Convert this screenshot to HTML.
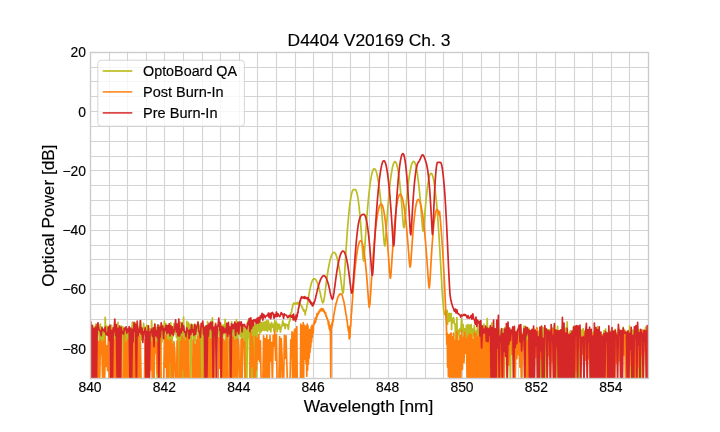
<!DOCTYPE html><html><head><meta charset="utf-8"><style>html,body{margin:0;padding:0;background:#fff;overflow:hidden}svg{display:block}</style></head><body><svg width="720" height="432" viewBox="0 0 720 432"><defs><clipPath id="ax"><rect x="90.0" y="51.84" width="558.0" height="326.15999999999997"/></clipPath></defs><rect x="0" y="0" width="720" height="432" fill="#fff"/><path d="M109.5 51.84V378.0M127.5 51.84V378.0M146.5 51.84V378.0M164.5 51.84V378.0M183.5 51.84V378.0M202.5 51.84V378.0M220.5 51.84V378.0M239.5 51.84V378.0M257.5 51.84V378.0M276.5 51.84V378.0M295.5 51.84V378.0M313.5 51.84V378.0M332.5 51.84V378.0M350.5 51.84V378.0M369.5 51.84V378.0M388.5 51.84V378.0M406.5 51.84V378.0M425.5 51.84V378.0M443.5 51.84V378.0M462.5 51.84V378.0M481.5 51.84V378.0M499.5 51.84V378.0M518.5 51.84V378.0M536.5 51.84V378.0M555.5 51.84V378.0M574.5 51.84V378.0M592.5 51.84V378.0M611.5 51.84V378.0M629.5 51.84V378.0M90.0 363.5H648.0M90.0 348.5H648.0M90.0 334.5H648.0M90.0 319.5H648.0M90.0 304.5H648.0M90.0 289.5H648.0M90.0 274.5H648.0M90.0 259.5H648.0M90.0 245.5H648.0M90.0 230.5H648.0M90.0 215.5H648.0M90.0 200.5H648.0M90.0 185.5H648.0M90.0 170.5H648.0M90.0 156.5H648.0M90.0 141.5H648.0M90.0 126.5H648.0M90.0 111.5H648.0M90.0 96.5H648.0M90.0 81.5H648.0M90.0 67.5H648.0" stroke="#d3d3d3" stroke-width="1.1" fill="none"/><g clip-path="url(#ax)" fill="none" stroke-width="1.7" stroke-linejoin="round" stroke-linecap="round"><path d="M86.0 328.2 86.8 386.0 87.6 328.2 88.4 386.0 89.2 330.2 90.0 386.0 90.8 325.1 91.6 343.8 92.4 328.2 93.2 339.8 94.0 327.0 94.8 386.0 95.6 324.3 96.4 386.0 97.2 325.2 98.0 333.2 98.8 327.0 99.6 348.8 100.4 324.1 101.2 346.3 102.0 326.8 102.8 386.0 103.6 331.3 104.4 386.0 105.2 317.3 106.0 335.3 106.8 326.1 107.6 332.0 108.4 327.5 109.2 341.3 110.0 334.1 110.8 330.3 111.6 325.4 112.4 386.0 113.2 328.9 114.0 339.7 114.8 324.8 115.6 341.8 116.4 327.2 117.2 386.0 118.0 322.3 118.8 386.0 119.6 326.3 120.4 335.2 121.2 326.2 122.0 336.7 122.8 326.7 123.6 386.0 124.4 328.6 125.2 386.0 126.0 327.6 126.8 386.0 127.6 329.0 128.4 386.0 129.2 329.5 130.0 335.7 130.8 329.6 131.6 332.9 132.4 322.0 133.2 334.5 134.0 326.6 134.8 386.0 135.6 322.9 136.4 386.0 137.2 327.1 138.0 386.0 138.8 327.2 139.6 386.0 140.4 320.5 141.2 340.2 142.0 330.6 142.8 332.4 143.6 323.4 144.4 333.5 145.2 327.1 146.0 339.8 146.8 325.0 147.6 386.0 148.4 325.8 149.2 386.0 150.0 328.9 150.8 349.3 151.6 320.5 152.4 341.2 153.2 329.2 154.0 337.2 154.8 323.9 155.6 336.5 156.4 327.7 157.2 386.0 158.0 329.1 158.8 386.0 159.6 325.7 160.4 386.0 161.2 329.7 162.0 342.0 162.8 325.5 163.6 332.4 164.4 321.0 165.2 331.8 166.0 323.7 166.8 341.4 167.6 325.5 168.4 386.0 169.2 330.2 170.0 386.0 170.8 322.8 171.6 386.0 172.4 332.0 173.2 336.1 174.0 323.5 174.8 332.5 175.6 325.2 176.4 337.1 177.2 325.9 178.0 386.0 178.8 323.3 179.6 386.0 180.4 322.2 181.2 386.0 182.0 331.1 182.8 386.0 183.6 317.1 184.4 386.0 185.2 334.6 186.0 386.0 186.8 321.3 187.6 341.0 188.4 322.7 189.2 330.5 190.0 324.4 190.8 386.0 191.6 324.2 192.4 325.1 193.2 325.0 194.0 386.0 194.8 324.5 195.6 339.8 196.4 325.6 197.2 331.1 198.0 321.7 198.8 386.0 199.6 325.3 200.4 386.0 201.2 327.3 202.0 386.0 202.8 324.7 203.6 386.0 204.4 326.5 205.2 341.4 206.0 328.4 206.8 339.4 207.6 321.7 208.4 386.0 209.2 324.0 210.0 386.0 210.8 321.3 211.6 386.0 212.4 317.9 213.2 341.1 214.0 328.5 214.8 334.3 215.6 323.1 216.4 336.6 217.2 327.8 218.0 329.5 218.8 332.2 219.6 339.8 220.4 323.2 221.2 386.0 222.0 325.0 222.8 337.3 223.6 325.1 224.4 330.7 225.2 319.3 226.0 386.0 226.8 323.2 227.6 386.0 228.4 327.4 229.2 331.6 230.0 326.9 230.8 340.5 231.6 321.8 232.4 332.0 233.2 328.2 234.0 386.0 234.8 322.3 235.6 386.0 236.4 319.6 237.2 386.0 238.0 323.4 238.8 333.2 239.6 328.4 240.4 336.1 241.2 325.0 242.0 386.0 242.8 328.4 243.6 330.7 244.4 326.4 245.2 386.0 246.0 330.1 246.8 386.0 247.6 321.1 248.4 337.6 249.2 322.2 250.0 386.0 250.8 320.5 251.6 386.0 252.4 321.3 253.2 386.0 254.0 325.0 254.8 386.0 255.6 323.0 256.4 386.0 257.2 323.1 258.0 331.0 258.8 322.3 259.6 333.8 260.4 322.4 261.2 331.9 262.0 322.4 262.8 330.1 263.6 322.4 264.4 330.4 265.2 321.7 266.0 330.5 266.8 320.5 267.6 331.3 268.4 320.8 269.2 329.7 270.0 324.2 270.8 331.9 271.6 322.6 272.4 327.2 273.2 324.4 274.0 331.5 274.8 320.6 275.6 329.5 276.4 322.2 277.2 331.6 278.0 324.0 278.8 328.6 279.6 324.3 280.4 332.1 281.2 327.7 282.0 325.8 282.8 320.8 283.6 325.5 284.4 323.7 285.2 328.7 286.0 324.2 286.8 325.1 287.6 324.8 288.4 329.5 289.2 321.5 290.0 320.6 290.8 312.8 291.6 312.1 292.0 308.4 292.4 308.1 292.8 305.1 293.2 305.1 293.6 303.1 294.0 304.3 294.4 303.0 294.8 303.5 295.2 303.1 295.6 304.0 296.0 303.3 296.4 303.7 296.8 303.0 297.2 304.0 297.6 302.4 298.0 303.1 298.4 303.0 298.8 302.7 299.2 303.6 299.6 303.8 300.0 303.4 300.4 304.9 300.8 305.0 301.2 305.8 301.6 305.9 302.0 307.5 302.4 307.1 302.8 309.3 303.2 309.2 303.6 311.1 304.0 309.9 304.4 311.2 304.8 311.1 305.2 315.0 305.6 311.1 306.0 310.8 306.4 308.9 306.8 307.2 307.2 304.7 307.6 303.3 308.0 300.6 308.4 298.1 308.8 295.4 309.2 293.3 309.6 290.9 310.0 289.1 310.4 287.1 310.8 285.5 311.2 283.9 311.6 282.6 312.0 281.4 312.4 280.6 312.8 279.7 313.2 279.3 313.6 278.8 314.0 278.8 314.4 278.7 314.8 279.0 315.2 279.1 315.6 279.6 316.0 280.0 316.4 280.8 316.8 281.5 317.2 282.6 317.6 283.4 318.0 284.6 318.4 285.8 318.8 287.2 319.2 288.6 319.6 290.5 320.0 291.9 320.4 293.8 320.8 295.7 321.2 297.5 321.6 299.1 322.0 301.1 322.4 301.9 322.8 302.8 323.2 302.3 323.6 301.8 324.0 299.0 324.4 297.5 324.8 294.2 325.2 291.4 325.6 288.1 326.0 285.1 326.4 282.0 326.8 279.1 327.2 276.1 327.6 273.5 328.0 270.8 328.4 268.5 328.8 266.2 329.2 264.2 329.6 262.2 330.0 260.5 330.4 258.9 330.8 257.5 331.2 256.3 331.6 255.2 332.0 254.3 332.4 253.6 332.8 253.0 333.2 252.6 333.6 252.4 334.0 252.4 334.4 252.5 334.8 252.8 335.2 253.3 335.6 254.0 336.0 254.8 336.4 255.9 336.8 257.1 337.2 258.5 337.6 260.0 338.0 261.8 338.4 263.7 338.8 265.8 339.2 268.1 339.6 270.5 340.0 273.1 340.4 276.0 340.8 278.9 341.2 282.3 341.6 285.1 342.0 288.8 342.4 291.0 342.8 293.3 343.2 292.8 343.6 290.0 344.0 284.9 344.4 278.4 344.8 271.3 345.2 264.2 345.6 257.4 346.0 250.8 346.4 244.5 346.8 238.6 347.2 233.0 347.6 227.8 348.0 222.8 348.4 218.3 348.8 214.0 349.2 210.1 349.6 206.6 350.0 203.3 350.4 200.5 350.8 197.9 351.2 195.7 351.6 193.8 352.0 192.3 352.4 191.1 352.8 190.3 353.2 189.8 353.6 189.6 354.0 189.6 354.4 189.6 354.8 189.6 355.2 189.6 355.6 189.8 356.0 190.3 356.4 191.3 356.8 192.5 357.2 194.2 357.6 196.2 358.0 198.6 358.4 201.4 358.8 204.5 359.2 208.0 359.6 211.9 360.0 216.1 360.4 220.8 360.8 225.7 361.2 231.1 361.6 236.7 362.0 242.7 362.4 248.9 362.8 254.8 363.2 259.4 363.6 261.0 364.0 258.6 364.4 253.6 364.8 247.4 365.2 241.2 365.6 235.0 366.0 229.0 366.4 223.4 366.8 218.0 367.2 212.9 367.6 208.0 368.0 203.5 368.4 199.2 368.8 195.2 369.2 191.5 369.6 188.1 370.0 184.9 370.4 182.0 370.8 179.4 371.2 177.1 371.6 175.1 372.0 173.3 372.4 171.9 372.8 170.7 373.2 169.8 373.6 169.1 374.0 168.8 374.4 168.7 374.8 168.9 375.2 169.3 375.6 170.0 376.0 171.0 376.4 172.1 376.8 173.6 377.2 175.3 377.6 177.2 378.0 179.4 378.4 181.8 378.8 184.5 379.2 187.5 379.6 190.7 380.0 194.1 380.4 197.8 380.8 201.7 381.2 205.9 381.6 210.4 382.0 215.1 382.4 220.0 382.8 225.1 383.2 230.5 383.6 235.8 384.0 240.9 384.4 244.7 384.8 246.0 385.2 244.0 385.6 239.4 386.0 233.8 386.4 227.8 386.8 221.9 387.2 216.2 387.6 210.8 388.0 205.6 388.4 200.7 388.8 196.1 389.2 191.8 389.6 187.8 390.0 184.1 390.4 180.7 390.8 177.5 391.2 174.6 391.6 172.1 392.0 169.8 392.4 167.8 392.8 166.0 393.2 164.6 393.6 163.5 394.0 162.6 394.4 162.0 394.8 161.7 395.2 161.7 395.6 162.0 396.0 162.6 396.4 163.6 396.8 164.8 397.2 166.3 397.6 168.1 398.0 170.2 398.4 172.7 398.8 175.4 399.2 178.4 399.6 181.7 400.0 185.4 400.4 189.3 400.8 193.6 401.2 198.1 401.6 202.9 402.0 208.0 402.4 213.3 402.8 218.5 403.2 223.4 403.6 226.8 404.0 227.8 404.4 226.0 404.8 222.2 405.2 217.4 405.6 212.5 406.0 207.6 406.4 202.9 406.8 198.4 407.2 194.2 407.6 190.2 408.0 186.5 408.4 183.1 408.8 179.9 409.2 176.9 409.6 174.2 410.0 171.8 410.4 169.6 410.8 167.7 411.2 166.0 411.6 164.6 412.0 163.5 412.4 162.6 412.8 161.9 413.2 161.5 413.6 161.4 414.0 161.5 414.4 162.0 414.8 162.7 415.2 163.6 415.6 164.9 416.0 166.4 416.4 168.2 416.8 170.3 417.2 172.7 417.6 175.4 418.0 178.3 418.4 181.5 418.8 185.0 419.2 188.8 419.6 192.8 420.0 197.1 420.4 201.7 420.8 206.6 421.2 211.7 421.6 217.0 422.0 222.2 422.4 227.0 422.8 230.4 423.2 231.1 423.6 228.9 424.0 224.7 424.4 219.7 424.8 214.6 425.2 209.6 425.6 204.9 426.0 200.4 426.4 196.4 426.8 192.6 427.2 189.2 427.6 186.1 428.0 183.3 428.4 180.9 428.8 178.8 429.2 177.1 429.6 175.6 430.0 174.6 430.4 173.8 430.8 173.4 431.2 173.3 431.6 173.6 432.0 174.1 432.4 175.1 432.8 176.3 433.2 177.9 433.6 179.8 434.0 182.1 434.4 184.6 434.8 187.6 435.2 190.8 435.6 194.4 436.0 198.3 436.4 201.1 436.8 205.7 437.2 210.6 437.6 215.8 438.0 221.3 438.4 227.1 438.8 233.2 439.2 239.5 439.6 246.1 440.0 252.9 440.4 259.8 440.8 266.9 441.2 274.0 441.6 280.8 442.0 288.2 442.4 294.2 442.8 300.4 443.2 303.7 443.6 309.6 444.0 311.6 444.4 314.1 444.8 312.4 445.2 315.2 445.6 312.3 446.0 317.2 446.4 311.5 446.8 322.9 447.2 310.3 447.6 324.3 448.0 313.3 448.4 320.9 448.8 315.1 449.2 321.4 449.6 313.4 450.0 319.6 450.4 315.2 450.8 320.6 451.2 313.6 451.6 329.6 452.0 318.9 452.8 322.6 453.6 317.5 454.4 323.7 455.2 324.2 456.0 386.0 456.8 317.7 457.6 340.7 458.4 330.1 459.2 334.1 460.0 328.5 460.8 331.1 461.6 318.9 462.4 331.2 463.2 324.7 464.0 339.2 464.8 328.8 465.6 340.5 466.4 325.3 467.2 340.9 468.0 324.7 468.8 338.4 469.6 325.0 470.4 335.7 471.2 324.7 472.0 338.5 472.8 329.1 473.6 335.9 474.4 325.9 475.2 351.2 476.0 331.2 476.8 337.7 477.6 325.5 478.4 343.7 479.2 330.4 480.0 343.6 480.8 328.1 481.6 339.7 482.4 327.0 483.2 386.0 484.0 324.1 484.8 386.0 485.6 327.9 486.4 343.7 487.2 318.7 488.0 343.3 488.8 328.2 489.6 386.0 490.4 328.2 491.2 386.0 492.0 322.8 492.8 386.0 493.6 326.6 494.4 339.5 495.2 334.9 496.0 342.0 496.8 328.2 497.6 337.1 498.4 326.4 499.2 386.0 500.0 330.1 500.8 386.0 501.6 333.1 502.4 386.0 503.2 328.9 504.0 386.0 504.8 327.6 505.6 343.6 506.4 328.2 507.2 386.0 508.0 333.2 508.8 338.5 509.6 334.2 510.4 386.0 511.2 331.0 512.0 338.7 512.8 326.5 513.6 386.0 514.4 331.0 515.2 337.6 516.0 332.0 516.8 339.8 517.6 329.6 518.4 353.1 519.2 328.5 520.0 349.3 520.8 333.2 521.6 386.0 522.4 334.0 523.2 335.1 524.0 326.1 524.8 340.9 525.6 326.4 526.4 345.1 527.2 334.1 528.0 340.1 528.8 328.3 529.6 342.1 530.4 330.9 531.2 343.1 532.0 330.7 532.8 341.5 533.6 328.5 534.4 337.0 535.2 330.8 536.0 349.6 536.8 327.6 537.6 386.0 538.4 331.0 539.2 343.5 540.0 327.0 540.8 386.0 541.6 333.3 542.4 386.0 543.2 327.9 544.0 344.6 544.8 330.1 545.6 386.0 546.4 329.2 547.2 339.1 548.0 329.5 548.8 345.2 549.6 329.5 550.4 331.0 551.2 329.4 552.0 341.1 552.8 328.2 553.6 345.8 554.4 325.4 555.2 386.0 556.0 330.1 556.8 386.0 557.6 326.4 558.4 344.1 559.2 330.6 560.0 332.5 560.8 336.3 561.6 339.3 562.4 326.6 563.2 353.5 564.0 334.7 564.8 346.3 565.6 328.2 566.4 347.9 567.2 321.9 568.0 386.0 568.8 333.4 569.6 333.4 570.4 330.8 571.2 345.6 572.0 332.3 572.8 341.8 573.6 326.3 574.4 347.8 575.2 328.9 576.0 386.0 576.8 330.4 577.6 386.0 578.4 327.4 579.2 386.0 580.0 328.3 580.8 349.3 581.6 330.2 582.4 335.6 583.2 328.5 584.0 345.0 584.8 334.0 585.6 347.5 586.4 329.5 587.2 338.9 588.0 331.3 588.8 341.5 589.6 331.2 590.4 343.8 591.2 332.0 592.0 345.7 592.8 332.4 593.6 337.8 594.4 331.4 595.2 386.0 596.0 329.7 596.8 338.5 597.6 326.5 598.4 386.0 599.2 330.3 600.0 386.0 600.8 332.7 601.6 386.0 602.4 334.6 603.2 344.2 604.0 330.7 604.8 386.0 605.6 329.1 606.4 386.0 607.2 333.7 608.0 386.0 608.8 329.3 609.6 350.2 610.4 331.0 611.2 336.6 612.0 336.1 612.8 347.6 613.6 343.6 614.4 386.0 615.2 329.4 616.0 352.2 616.8 333.3 617.6 349.3 618.4 328.5 619.2 339.8 620.0 330.9 620.8 349.2 621.6 335.5 622.4 337.8 623.2 327.4 624.0 354.6 624.8 331.6 625.6 348.9 626.4 331.7 627.2 348.8 628.0 332.3 628.8 348.7 629.6 326.2 630.4 386.0 631.2 331.7 632.0 339.5 632.8 330.2 633.6 337.0 634.4 335.3 635.2 386.0 636.0 328.2 636.8 386.0 637.6 332.1 638.4 386.0 639.2 329.7 640.0 386.0 640.8 338.3 641.6 386.0 642.4 331.1 643.2 386.0 644.0 333.5 644.8 338.6 645.6 327.0 646.4 347.4 647.2 327.9 648.0 346.9 648.8 334.9 649.6 386.0 650.4 330.5 651.2 346.2" stroke="#bcbd22"/><path d="M86.0 340.6 86.8 359.9 87.6 386.0 88.4 386.0 89.2 345.4 90.0 364.4 90.8 339.0 91.6 375.8 92.4 386.0 93.2 386.0 94.0 386.0 94.8 386.0 95.6 338.9 96.4 386.0 97.2 341.2 98.0 386.0 98.8 341.5 99.6 386.0 100.4 340.2 101.2 354.3 102.0 342.3 102.8 386.0 103.6 340.8 104.4 386.0 105.2 336.8 106.0 366.4 106.8 345.9 107.6 370.6 108.4 334.6 109.2 386.0 110.0 386.0 110.8 386.0 111.6 342.9 112.4 386.0 113.2 340.3 114.0 386.0 114.8 339.1 115.6 386.0 116.4 336.3 117.2 351.1 118.0 386.0 118.8 386.0 119.6 386.0 120.4 386.0 121.2 337.9 122.0 386.0 122.8 386.0 123.6 386.0 124.4 334.0 125.2 386.0 126.0 342.6 126.8 386.0 127.6 339.9 128.4 386.0 129.2 339.7 130.0 347.7 130.8 346.4 131.6 386.0 132.4 338.6 133.2 386.0 134.0 341.3 134.8 386.0 135.6 338.8 136.4 386.0 137.2 341.3 138.0 386.0 138.8 334.8 139.6 386.0 140.4 342.8 141.2 386.0 142.0 386.0 142.8 386.0 143.6 386.0 144.4 386.0 145.2 339.0 146.0 386.0 146.8 386.0 147.6 386.0 148.4 340.2 149.2 386.0 150.0 338.4 150.8 369.8 151.6 341.8 152.4 386.0 153.2 336.9 154.0 386.0 154.8 336.5 155.6 352.9 156.4 342.4 157.2 374.0 158.0 343.2 158.8 386.0 159.6 339.5 160.4 337.5 161.2 386.0 162.0 386.0 162.8 386.0 163.6 386.0 164.4 337.0 165.2 367.2 166.0 334.4 166.8 386.0 167.6 340.1 168.4 386.0 169.2 340.8 170.0 362.9 170.8 339.8 171.6 386.0 172.4 344.3 173.2 386.0 174.0 341.7 174.8 351.5 175.6 386.0 176.4 386.0 177.2 341.4 178.0 386.0 178.8 386.0 179.6 386.0 180.4 341.0 181.2 386.0 182.0 336.6 182.8 369.8 183.6 338.3 184.4 386.0 185.2 341.0 186.0 376.3 186.8 337.1 187.6 386.0 188.4 334.8 189.2 386.0 190.0 386.0 190.8 386.0 191.6 386.0 192.4 386.0 193.2 340.2 194.0 377.5 194.8 344.5 195.6 386.0 196.4 340.0 197.2 386.0 198.0 336.2 198.8 386.0 199.6 337.4 200.4 386.0 201.2 386.0 202.0 386.0 202.8 386.0 203.6 386.0 204.4 337.6 205.2 386.0 206.0 334.5 206.8 342.8 207.6 335.9 208.4 386.0 209.2 338.5 210.0 386.0 210.8 339.1 211.6 386.0 212.4 340.2 213.2 386.0 214.0 334.5 214.8 386.0 215.6 386.0 216.4 386.0 217.2 386.0 218.0 386.0 218.8 337.6 219.6 368.1 220.4 340.1 221.2 386.0 222.0 335.4 222.8 386.0 223.6 339.2 224.4 386.0 225.2 341.1 226.0 386.0 226.8 332.6 227.6 386.0 228.4 386.0 229.2 386.0 230.0 340.4 230.8 386.0 231.6 335.6 232.4 386.0 233.2 337.4 234.0 386.0 234.8 340.1 235.6 375.8 236.4 339.7 237.2 386.0 238.0 338.9 238.8 347.6 239.6 386.0 240.4 386.0 241.2 339.5 242.0 386.0 242.8 338.5 243.6 347.2 244.4 341.8 245.2 386.0 246.0 386.0 246.8 386.0 247.6 386.0 248.4 386.0 249.2 386.0 250.0 386.0 250.8 332.8 251.6 367.1 252.4 336.6 253.2 353.8 254.0 386.0 254.8 386.0 255.6 336.7 256.4 369.9 257.2 338.3 258.0 359.6 258.8 334.6 259.6 361.6 260.4 340.8 261.2 386.0 262.0 386.0 262.8 386.0 263.6 335.8 264.4 386.0 265.2 338.7 266.0 386.0 266.8 335.3 267.6 386.0 268.4 339.8 269.2 386.0 270.0 335.6 270.8 361.1 271.6 342.3 272.4 386.0 273.2 335.5 274.0 346.2 274.8 330.7 275.6 360.5 276.4 334.6 277.2 386.0 278.0 386.0 278.8 386.0 279.6 336.6 280.4 386.0 281.2 338.5 282.0 355.5 282.8 386.0 283.6 386.0 284.4 335.4 285.2 358.3 286.0 335.8 286.8 363.4 287.6 386.0 288.4 386.0 289.2 386.0 290.0 386.0 290.8 339.8 291.6 357.5 292.0 331.8 292.4 367.4 292.8 386.0 293.2 386.0 293.6 333.0 294.0 386.0 294.4 330.0 294.8 339.5 295.2 328.9 295.6 376.5 296.0 386.0 296.4 386.0 296.8 326.5 297.2 386.0 297.6 386.0 298.0 386.0 298.4 386.0 298.8 386.0 299.2 386.0 299.6 386.0 300.0 386.0 300.4 386.0 300.8 324.2 301.2 386.0 301.6 386.0 302.0 386.0 302.4 325.6 302.8 386.0 303.2 322.5 303.6 386.0 304.0 324.9 304.4 359.6 304.8 327.9 305.2 341.9 305.6 326.1 306.0 363.7 306.4 327.1 306.8 376.2 307.2 324.1 307.6 370.1 308.0 325.8 308.4 364.0 308.8 331.7 309.2 358.1 309.6 329.5 310.0 352.4 310.4 331.4 310.8 347.1 311.2 326.9 311.6 342.1 312.0 325.3 312.4 337.4 312.8 326.1 313.2 333.2 313.6 324.1 314.0 324.8 314.4 321.0 314.8 323.5 315.2 318.1 315.6 322.1 316.0 317.4 316.4 319.3 316.8 314.0 317.2 316.4 317.6 313.6 318.0 314.5 318.4 312.0 318.8 313.1 319.2 311.1 319.6 311.7 320.0 309.8 320.4 310.6 320.8 309.0 321.2 310.6 321.6 308.7 322.0 310.6 322.4 308.9 322.8 309.9 323.2 309.0 323.6 311.5 324.0 310.5 324.4 312.2 324.8 312.2 325.2 314.2 325.6 312.6 326.0 316.5 326.4 315.7 326.8 318.5 327.2 317.9 327.6 319.8 328.0 320.7 328.4 324.9 328.8 321.4 329.2 328.8 329.6 324.8 330.0 331.0 330.4 326.3 330.8 386.0 331.2 325.5 331.6 327.6 332.0 322.9 332.4 325.6 332.8 319.5 333.2 321.4 333.6 315.6 334.0 314.9 334.4 311.6 334.8 310.2 335.2 307.0 335.6 306.4 336.0 303.2 336.4 303.2 336.8 300.6 337.2 299.8 337.6 298.1 338.0 297.1 338.4 296.0 338.8 295.7 339.2 294.7 339.6 294.6 340.0 293.9 340.4 294.2 340.8 293.7 341.2 294.4 341.6 294.4 342.0 295.2 342.4 295.9 342.8 297.8 343.2 298.8 343.6 300.9 344.0 302.0 344.4 305.0 344.8 306.4 345.2 309.5 345.6 311.5 346.0 314.9 346.4 315.5 346.8 320.3 347.2 320.4 347.6 325.6 348.0 327.7 348.4 331.2 348.8 326.8 349.2 338.9 349.6 329.6 350.0 337.3 350.4 325.2 350.8 325.9 351.2 315.7 351.6 312.4 352.0 305.7 352.4 301.0 352.8 294.5 353.2 290.0 353.6 284.7 354.0 280.0 354.4 275.4 354.8 271.2 355.2 267.2 355.6 263.5 356.0 260.1 356.4 256.9 356.8 254.0 357.2 251.4 357.6 249.1 358.0 247.1 358.4 245.3 358.8 243.9 359.2 242.7 359.6 241.8 360.0 241.1 360.4 240.8 360.8 240.7 361.2 241.0 361.6 241.5 362.0 242.4 362.4 243.6 362.8 245.1 363.2 247.0 363.6 249.2 364.0 251.6 364.4 254.5 364.8 257.6 365.2 261.1 365.6 264.8 366.0 268.9 366.4 273.2 366.8 278.1 367.2 282.9 367.6 288.4 368.0 293.4 368.4 299.4 368.8 303.4 369.2 307.3 369.6 305.4 370.0 303.3 370.4 297.0 370.8 291.3 371.2 284.5 371.6 278.3 372.0 272.3 372.4 266.5 372.8 260.8 373.2 255.5 373.6 250.4 374.0 245.6 374.4 241.1 374.8 236.8 375.2 232.7 375.6 229.0 376.0 225.5 376.4 222.2 376.8 219.3 377.2 216.6 377.6 214.1 378.0 211.9 378.4 210.0 378.8 208.4 379.2 207.0 379.6 205.9 380.0 205.0 380.4 204.4 380.8 204.1 381.2 204.0 381.6 204.2 382.0 204.8 382.4 205.6 382.8 206.8 383.2 208.2 383.6 210.0 384.0 212.1 384.4 214.5 384.8 217.2 385.2 220.2 385.6 223.5 386.0 227.1 386.4 231.0 386.8 235.3 387.2 239.8 387.6 244.6 388.0 249.8 388.4 255.2 388.8 260.9 389.2 266.7 389.6 272.2 390.0 276.6 390.4 278.2 390.8 276.2 391.2 271.2 391.6 265.2 392.0 258.9 392.4 252.8 392.8 246.9 393.2 241.3 393.6 236.0 394.0 231.0 394.4 226.3 394.8 222.0 395.2 217.9 395.6 214.2 396.0 210.8 396.4 207.7 396.8 205.0 397.2 202.5 397.6 200.4 398.0 198.6 398.4 197.1 398.8 195.9 399.2 195.0 399.6 194.4 400.0 194.2 400.4 194.3 400.8 194.6 401.2 195.2 401.6 196.0 402.0 197.1 402.4 198.5 402.8 200.1 403.2 201.9 403.6 204.1 404.0 206.4 404.4 209.1 404.8 212.0 405.2 215.1 405.6 218.5 406.0 222.2 406.4 226.1 406.8 230.3 407.2 234.7 407.6 239.4 408.0 244.4 408.4 249.5 408.8 254.8 409.2 260.0 409.6 264.5 410.0 267.2 410.4 266.5 410.8 262.9 411.2 257.4 411.6 251.5 412.0 245.5 412.4 239.9 412.8 234.5 413.2 229.5 413.6 224.9 414.0 220.7 414.4 216.9 414.8 213.4 415.2 210.4 415.6 207.7 416.0 205.4 416.4 203.5 416.8 201.9 417.2 200.8 417.6 200.0 418.0 199.6 418.4 199.6 418.8 199.9 419.2 200.4 419.6 201.1 420.0 202.2 420.4 203.4 420.8 204.9 421.2 206.7 421.6 208.7 422.0 211.0 422.4 213.5 422.8 216.3 423.2 219.3 423.6 222.6 424.0 226.2 424.4 230.0 424.8 234.0 425.2 238.3 425.6 242.8 426.0 247.7 426.4 252.7 426.8 258.0 427.2 263.5 427.6 269.3 428.0 275.2 428.4 281.0 428.8 285.7 429.2 288.0 429.6 285.7 430.0 280.4 430.4 273.5 430.8 266.3 431.2 259.4 431.6 252.9 432.0 246.8 432.4 241.2 432.8 236.0 433.2 231.3 433.6 227.0 434.0 223.2 434.4 219.9 434.8 217.0 435.2 214.6 435.6 212.6 436.0 211.1 436.4 210.1 436.8 209.5 437.2 209.4 437.6 209.8 438.0 210.6 438.4 211.8 438.8 213.6 439.2 215.7 439.6 211.6 440.0 215.9 440.4 220.3 440.8 225.0 441.2 229.9 441.6 235.1 442.0 240.7 442.4 246.6 442.8 252.9 443.2 259.5 443.6 266.6 444.0 273.8 444.4 281.5 444.8 289.4 445.2 298.7 445.6 306.6 446.0 317.2 446.4 325.0 446.8 344.2 447.2 333.3 447.6 367.1 448.0 334.6 448.4 376.6 448.8 334.9 449.2 357.0 449.6 336.9 450.0 386.0 450.4 333.6 450.8 386.0 451.2 333.0 451.6 386.0 452.0 336.7 452.8 386.0 453.6 333.2 454.4 386.0 455.2 340.4 456.0 386.0 456.8 331.6 457.6 386.0 458.4 340.8 459.2 386.0 460.0 335.5 460.8 383.9 461.6 330.5 462.4 369.5 463.2 337.3 464.0 362.3 464.8 332.7 465.6 353.1 466.4 338.6 467.2 386.0 468.0 336.0 468.8 386.0 469.6 333.9 470.4 386.0 471.2 334.9 472.0 386.0 472.8 339.1 473.6 386.0 474.4 332.7 475.2 386.0 476.0 333.6 476.8 386.0 477.6 337.2 478.4 386.0 479.2 335.7 480.0 386.0 480.8 335.0 481.6 386.0 482.4 334.5 483.2 386.0 484.0 334.6 484.8 386.0 485.6 333.3 486.4 386.0 487.2 340.1 488.0 386.0 488.8 335.2 489.6 386.0 490.4 327.1 491.2 386.0 492.0 333.3 492.8 386.0 493.6 333.2 494.4 386.0 495.2 339.1 496.0 357.7 496.8 337.4 497.6 386.0 498.4 335.7 499.2 356.1 500.0 335.4 500.8 386.0 501.6 336.4 502.4 386.0 503.2 336.3 504.0 386.0 504.8 343.8 505.6 354.0 506.4 335.3 507.2 350.7 508.0 333.9 508.8 365.2 509.6 335.5 510.4 334.4 511.2 333.3 512.0 354.4 512.8 333.4 513.6 360.1 514.4 338.8 515.2 386.0 516.0 332.3 516.8 358.6 517.6 333.2 518.4 354.8 519.2 338.2 520.0 367.3 520.8 334.7 521.6 386.0 522.4 339.7 523.2 345.9 524.0 335.9 524.8 386.0 525.6 334.1 526.4 386.0 527.2 341.1 528.0 386.0 528.8 333.3 529.6 351.9 530.4 334.2 531.2 363.4 532.0 334.5 532.8 386.0 533.6 336.3 534.4 341.2 535.2 339.6 536.0 357.5 536.8 327.9 537.6 335.8 538.4 336.0 539.2 346.0 540.0 342.5 540.8 358.7 541.6 335.0 542.4 353.9 543.2 338.9 544.0 360.1 544.8 337.0 545.6 340.2 546.4 332.4 547.2 367.7 548.0 330.9 548.8 355.6 549.6 337.7 550.4 386.0 551.2 338.5 552.0 361.3 552.8 328.5 553.6 386.0 554.4 333.6 555.2 373.6 556.0 331.8 556.8 350.0 557.6 334.4 558.4 386.0 559.2 330.8 560.0 363.9 560.8 337.6 561.6 386.0 562.4 336.7 563.2 347.4 564.0 330.4 564.8 343.4 565.6 332.3 566.4 349.6 567.2 336.8 568.0 386.0 568.8 335.6 569.6 386.0 570.4 333.7 571.2 348.2 572.0 339.1 572.8 351.8 573.6 337.8 574.4 357.6 575.2 335.9 576.0 371.2 576.8 338.5 577.6 338.1 578.4 334.3 579.2 348.1 580.0 335.7 580.8 365.9 581.6 336.3 582.4 353.9 583.2 336.1 584.0 345.2 584.8 331.4 585.6 360.2 586.4 329.5 587.2 365.7 588.0 332.5 588.8 358.7 589.6 345.8 590.4 386.0 591.2 340.2 592.0 369.0 592.8 333.8 593.6 386.0 594.4 337.6 595.2 386.0 596.0 336.9 596.8 360.5 597.6 332.2 598.4 386.0 599.2 340.3 600.0 385.8 600.8 336.9 601.6 357.7 602.4 335.1 603.2 386.0 604.0 335.2 604.8 364.1 605.6 337.4 606.4 386.0 607.2 339.1 608.0 342.6 608.8 333.0 609.6 356.4 610.4 336.9 611.2 386.0 612.0 332.9 612.8 386.0 613.6 333.5 614.4 386.0 615.2 334.2 616.0 363.3 616.8 339.5 617.6 350.3 618.4 329.7 619.2 361.1 620.0 337.4 620.8 386.0 621.6 332.8 622.4 344.3 623.2 337.8 624.0 355.1 624.8 330.3 625.6 386.0 626.4 336.5 627.2 358.7 628.0 331.4 628.8 356.4 629.6 341.9 630.4 364.9 631.2 341.6 632.0 377.6 632.8 339.3 633.6 386.0 634.4 336.2 635.2 386.0 636.0 330.5 636.8 386.0 637.6 333.7 638.4 366.9 639.2 340.4 640.0 361.0 640.8 336.2 641.6 354.8 642.4 330.1 643.2 363.6 644.0 336.0 644.8 350.5 645.6 332.1 646.4 376.6 647.2 335.1 648.0 363.3 648.8 340.7 649.6 348.5 650.4 341.1 651.2 386.0" stroke="#ff7f0e"/><path d="M86.0 334.1 86.8 386.0 87.6 329.3 88.4 386.0 89.2 326.6 90.0 335.8 90.8 321.9 91.6 386.0 92.4 325.3 93.2 386.0 94.0 328.6 94.8 386.0 95.6 327.0 96.4 386.0 97.2 324.7 98.0 322.9 98.8 329.3 99.6 330.7 100.4 330.7 101.2 335.6 102.0 327.8 102.8 330.3 103.6 329.4 104.4 331.7 105.2 327.2 106.0 334.6 106.8 333.5 107.6 335.3 108.4 326.9 109.2 340.1 110.0 325.0 110.8 386.0 111.6 330.3 112.4 386.0 113.2 327.9 114.0 331.9 114.8 319.1 115.6 335.7 116.4 324.7 117.2 386.0 118.0 328.3 118.8 386.0 119.6 326.2 120.4 386.0 121.2 327.5 122.0 333.4 122.8 331.7 123.6 334.1 124.4 328.0 125.2 329.6 126.0 326.8 126.8 333.1 127.6 329.1 128.4 331.7 129.2 326.7 130.0 386.0 130.8 328.0 131.6 386.0 132.4 329.4 133.2 341.6 134.0 322.3 134.8 331.2 135.6 324.3 136.4 386.0 137.2 321.1 138.0 335.9 138.8 329.3 139.6 332.3 140.4 320.7 141.2 334.2 142.0 328.1 142.8 342.5 143.6 331.9 144.4 332.1 145.2 328.1 146.0 386.0 146.8 331.3 147.6 386.0 148.4 325.9 149.2 386.0 150.0 332.0 150.8 332.4 151.6 329.2 152.4 336.2 153.2 327.9 154.0 346.7 154.8 324.4 155.6 335.5 156.4 330.9 157.2 337.5 158.0 324.9 158.8 386.0 159.6 327.3 160.4 337.0 161.2 322.8 162.0 329.7 162.8 326.5 163.6 338.7 164.4 328.7 165.2 330.2 166.0 325.4 166.8 333.3 167.6 325.6 168.4 332.6 169.2 323.9 170.0 335.8 170.8 325.9 171.6 333.7 172.4 326.8 173.2 335.1 174.0 330.6 174.8 328.5 175.6 319.9 176.4 331.9 177.2 324.2 178.0 336.0 178.8 319.1 179.6 335.9 180.4 329.1 181.2 332.9 182.0 322.9 182.8 330.2 183.6 325.9 184.4 332.1 185.2 331.8 186.0 336.6 186.8 327.9 187.6 331.0 188.4 330.8 189.2 338.5 190.0 329.6 190.8 334.5 191.6 324.9 192.4 331.9 193.2 329.9 194.0 335.3 194.8 324.4 195.6 334.1 196.4 326.7 197.2 326.2 198.0 322.4 198.8 331.1 199.6 332.5 200.4 337.5 201.2 323.4 202.0 326.5 202.8 321.0 203.6 334.6 204.4 327.5 205.2 386.0 206.0 325.9 206.8 386.0 207.6 325.3 208.4 336.2 209.2 323.4 210.0 328.7 210.8 322.4 211.6 329.8 212.4 322.2 213.2 386.0 214.0 327.2 214.8 335.2 215.6 324.1 216.4 386.0 217.2 326.4 218.0 326.3 218.8 318.1 219.6 330.1 220.4 322.9 221.2 386.0 222.0 326.8 222.8 333.3 223.6 327.4 224.4 332.7 225.2 329.0 226.0 332.3 226.8 323.7 227.6 336.2 228.4 322.4 229.2 333.6 230.0 327.1 230.8 386.0 231.6 323.9 232.4 328.9 233.2 324.5 234.0 328.6 234.8 322.2 235.6 335.5 236.4 323.9 237.2 331.5 238.0 322.0 238.8 333.9 239.6 322.1 240.4 325.5 241.2 321.9 242.0 331.9 242.8 324.4 243.6 325.6 244.4 324.4 245.2 326.7 246.0 327.5 246.8 329.0 247.6 323.2 248.4 324.5 249.2 318.6 250.0 331.6 250.8 317.8 251.6 328.5 252.4 320.6 253.2 325.7 254.0 319.7 254.8 321.1 255.6 319.7 256.4 323.5 257.2 318.1 258.0 323.2 258.8 317.5 259.6 322.1 260.4 315.9 261.2 317.8 262.0 313.4 262.8 320.2 263.6 314.3 264.4 316.1 265.2 317.7 266.0 315.7 266.8 315.4 267.6 315.8 268.4 313.0 269.2 317.6 270.0 313.4 270.8 318.7 271.6 313.2 272.4 312.5 273.2 313.7 274.0 318.4 274.8 314.6 275.6 316.7 276.4 312.0 277.2 316.5 278.0 313.7 278.8 315.5 279.6 316.5 280.4 315.6 281.2 312.5 282.0 314.1 282.8 314.0 283.6 318.3 284.4 313.9 285.2 315.0 286.0 315.0 286.8 315.7 287.6 317.6 288.4 317.5 289.2 315.4 290.0 316.2 290.8 315.3 291.6 317.2 292.0 317.0 292.4 316.8 292.8 314.9 293.2 319.9 293.6 314.1 294.0 319.7 294.4 316.9 294.8 318.5 295.2 317.3 295.6 321.2 296.0 315.4 296.4 319.1 296.8 314.9 297.2 316.7 297.6 312.4 298.0 312.9 298.4 308.4 298.8 308.0 299.2 304.6 299.6 304.1 300.0 300.6 300.4 300.8 300.8 298.2 301.2 298.5 301.6 296.5 302.0 298.0 302.4 297.3 302.8 297.9 303.2 297.4 303.6 298.1 304.0 296.9 304.4 298.3 304.8 296.6 305.2 298.5 305.6 297.6 306.0 298.2 306.4 297.7 306.8 298.6 307.2 297.8 307.6 299.1 308.0 297.5 308.4 300.0 308.8 299.2 309.2 301.2 309.6 299.8 310.0 302.3 310.4 301.3 310.8 303.7 311.2 302.4 311.6 304.4 312.0 303.4 312.4 306.0 312.8 304.5 313.2 305.4 313.6 302.6 314.0 303.7 314.4 301.4 314.8 301.4 315.2 298.9 315.6 298.5 316.0 295.5 316.4 294.9 316.8 292.2 317.2 291.2 317.6 288.9 318.0 288.1 318.4 286.0 318.8 284.8 319.2 283.2 319.6 282.4 320.0 281.0 320.4 280.2 320.8 279.1 321.2 278.5 321.6 277.6 322.0 277.1 322.4 276.4 322.8 276.3 323.2 275.8 323.6 275.9 324.0 275.7 324.4 276.0 324.8 276.1 325.2 276.6 325.6 276.9 326.0 277.8 326.4 278.3 326.8 279.6 327.2 280.5 327.6 281.9 328.0 282.9 328.4 284.6 328.8 285.9 329.2 287.8 329.6 289.3 330.0 291.7 330.4 293.3 330.8 295.4 331.2 296.0 331.6 298.4 332.0 298.3 332.4 299.3 332.8 298.0 333.2 297.8 333.6 294.5 334.0 292.7 334.4 288.9 334.8 286.8 335.2 283.4 335.6 280.5 336.0 277.3 336.4 274.7 336.8 271.9 337.2 269.5 337.6 267.0 338.0 264.9 338.4 262.7 338.8 260.9 339.2 259.1 339.6 257.5 340.0 256.1 340.4 254.9 340.8 253.8 341.2 253.0 341.6 252.2 342.0 251.7 342.4 251.3 342.8 251.1 343.2 251.1 343.6 251.2 344.0 251.6 344.4 252.2 344.8 252.9 345.2 254.0 345.6 255.1 346.0 256.6 346.4 258.2 346.8 260.1 347.2 262.0 347.6 264.4 348.0 266.7 348.4 269.5 348.8 272.2 349.2 275.4 349.6 278.5 350.0 281.9 350.4 284.9 350.8 288.7 351.2 291.1 351.6 293.1 352.0 292.8 352.4 291.5 352.8 287.4 353.2 282.9 353.6 277.3 354.0 271.9 354.4 266.1 354.8 260.6 355.2 255.1 355.6 250.0 356.0 245.2 356.4 240.7 356.8 236.5 357.2 232.8 357.6 229.4 358.0 226.5 358.4 224.0 358.8 221.8 359.2 220.1 359.6 218.6 360.0 217.5 360.4 216.7 360.8 216.0 361.2 215.5 361.6 215.1 362.0 214.8 362.4 214.6 362.8 214.5 363.2 214.4 363.6 214.3 364.0 214.4 364.4 214.6 364.8 215.1 365.2 215.9 365.6 217.0 366.0 218.4 366.4 220.1 366.8 222.2 367.2 224.5 367.6 227.2 368.0 230.2 368.4 233.5 368.8 237.1 369.2 241.1 369.6 245.3 370.0 249.9 370.4 254.8 370.8 260.0 371.2 265.3 371.6 270.4 372.0 274.2 372.4 275.3 372.8 272.4 373.2 266.6 373.6 259.5 374.0 252.3 374.4 245.1 374.8 238.2 375.2 231.5 375.6 225.1 376.0 219.1 376.4 213.3 376.8 207.9 377.2 202.7 377.6 197.8 378.0 193.3 378.4 189.0 378.8 185.0 379.2 181.4 379.6 178.0 380.0 174.9 380.4 172.2 380.8 169.7 381.2 167.5 381.6 165.6 382.0 164.1 382.4 162.8 382.8 161.8 383.2 161.2 383.6 160.8 384.0 160.7 384.4 160.9 384.8 161.5 385.2 162.4 385.6 163.5 386.0 165.0 386.4 166.8 386.8 169.0 387.2 171.4 387.6 174.1 388.0 177.2 388.4 180.6 388.8 184.3 389.2 188.3 389.6 192.6 390.0 197.2 390.4 202.2 390.8 207.4 391.2 213.0 391.6 218.9 392.0 225.0 392.4 231.4 392.8 237.7 393.2 243.2 393.6 246.0 394.0 244.3 394.4 238.8 394.8 231.8 395.2 224.5 395.6 217.4 396.0 210.6 396.4 204.2 396.8 198.1 397.2 192.5 397.6 187.2 398.0 182.3 398.4 177.8 398.8 173.7 399.2 170.0 399.6 166.6 400.0 163.7 400.4 161.1 400.8 158.9 401.2 157.1 401.6 155.6 402.0 154.6 402.4 153.9 402.8 153.6 403.2 153.7 403.6 154.3 404.0 155.4 404.4 157.0 404.8 159.0 405.2 161.5 405.6 164.5 406.0 167.9 406.4 171.9 406.8 176.3 407.2 181.2 407.6 186.5 408.0 192.4 408.4 198.7 408.8 205.5 409.2 212.7 409.6 220.3 410.0 227.6 410.4 233.4 410.8 234.8 411.2 231.1 411.6 224.7 412.0 217.7 412.4 210.9 412.8 204.6 413.2 198.6 413.6 193.2 414.0 188.2 414.4 183.7 414.8 179.6 415.2 176.0 415.6 172.9 416.0 170.2 416.4 168.0 416.8 166.2 417.2 164.7 417.6 163.6 418.0 162.8 418.4 162.1 418.8 161.6 419.2 161.0 419.6 160.3 420.0 159.5 420.4 158.6 420.8 157.6 421.2 156.7 421.6 155.9 422.0 155.3 422.4 154.9 422.8 154.9 423.2 155.2 423.6 155.7 424.0 156.5 424.4 157.5 424.8 158.6 425.2 159.7 425.6 160.9 426.0 162.2 426.4 163.6 426.8 165.3 427.2 167.3 427.6 169.7 428.0 172.6 428.4 175.9 428.8 179.7 429.2 184.1 429.6 188.9 430.0 194.4 430.4 200.4 430.8 206.9 431.2 214.0 431.6 221.6 432.0 229.1 432.4 234.4 432.8 232.7 433.2 224.4 433.6 214.2 434.0 204.5 434.4 195.7 434.8 187.9 435.2 181.1 435.6 175.4 436.0 170.7 436.4 167.1 436.8 164.5 437.2 162.9 437.6 162.4 438.0 162.4 438.4 162.4 438.8 162.4 439.2 162.4 439.6 162.4 440.0 162.4 440.4 162.4 440.8 162.7 441.2 163.5 441.6 164.8 442.0 166.6 442.4 169.0 442.8 171.9 443.2 175.3 443.6 179.3 444.0 183.8 444.4 188.1 444.8 193.6 445.2 199.7 445.6 206.2 446.0 213.3 446.4 220.8 446.8 228.7 447.2 237.1 447.6 245.9 448.0 254.9 448.4 264.0 448.8 272.6 449.2 280.9 449.6 287.8 450.0 294.3 450.4 297.1 450.8 300.1 451.2 300.9 451.6 303.3 452.0 304.1 452.8 307.2 453.6 308.7 454.4 311.3 455.2 309.0 456.0 312.8 456.8 309.7 457.6 313.5 458.4 313.5 459.2 314.7 460.0 315.0 460.8 317.1 461.6 315.0 462.4 315.9 463.2 315.4 464.0 314.3 464.8 315.4 465.6 314.7 466.4 316.1 467.2 317.9 468.0 315.6 468.8 317.9 469.6 318.3 470.4 317.3 471.2 315.4 472.0 319.2 472.8 313.9 473.6 318.4 474.4 319.8 475.2 324.1 476.0 317.2 476.8 326.4 477.6 320.2 478.4 322.9 479.2 321.4 480.0 336.0 480.8 320.7 481.6 348.0 482.4 325.8 483.2 333.5 484.0 329.2 484.8 332.7 485.6 326.1 486.4 341.1 487.2 328.2 488.0 341.8 488.8 328.8 489.6 335.2 490.4 325.6 491.2 386.0 492.0 327.7 492.8 386.0 493.6 320.2 494.4 386.0 495.2 328.8 496.0 386.0 496.8 320.2 497.6 348.0 498.4 315.3 499.2 386.0 500.0 336.4 500.8 341.6 501.6 328.7 502.4 386.0 503.2 333.5 504.0 351.4 504.8 329.0 505.6 356.3 506.4 323.6 507.2 386.0 508.0 322.1 508.8 344.4 509.6 328.1 510.4 340.5 511.2 330.2 512.0 333.4 512.8 327.1 513.6 386.0 514.4 326.3 515.2 347.6 516.0 332.0 516.8 343.6 517.6 330.4 518.4 328.7 519.2 325.2 520.0 342.0 520.8 324.5 521.6 350.9 522.4 335.2 523.2 339.4 524.0 328.8 524.8 386.0 525.6 327.0 526.4 335.6 527.2 327.7 528.0 333.4 528.8 329.9 529.6 386.0 530.4 330.6 531.2 386.0 532.0 329.3 532.8 386.0 533.6 326.1 534.4 386.0 535.2 330.0 536.0 345.5 536.8 331.8 537.6 386.0 538.4 336.8 539.2 386.0 540.0 327.4 540.8 350.6 541.6 326.0 542.4 386.0 543.2 338.4 544.0 386.0 544.8 325.7 545.6 332.9 546.4 329.1 547.2 386.0 548.0 330.5 548.8 340.5 549.6 331.3 550.4 386.0 551.2 324.6 552.0 340.6 552.8 335.4 553.6 386.0 554.4 323.5 555.2 386.0 556.0 330.1 556.8 346.3 557.6 330.9 558.4 386.0 559.2 330.8 560.0 386.0 560.8 329.8 561.6 386.0 562.4 317.4 563.2 386.0 564.0 323.1 564.8 386.0 565.6 333.0 566.4 386.0 567.2 328.4 568.0 386.0 568.8 334.9 569.6 386.0 570.4 333.9 571.2 386.0 572.0 331.1 572.8 386.0 573.6 327.0 574.4 386.0 575.2 326.1 576.0 335.6 576.8 325.5 577.6 386.0 578.4 326.1 579.2 336.7 580.0 325.2 580.8 386.0 581.6 337.7 582.4 342.4 583.2 336.9 584.0 386.0 584.8 339.1 585.6 331.8 586.4 323.4 587.2 386.0 588.0 329.5 588.8 341.6 589.6 327.2 590.4 386.0 591.2 329.3 592.0 386.0 592.8 336.2 593.6 386.0 594.4 323.0 595.2 386.0 596.0 327.6 596.8 386.0 597.6 329.5 598.4 386.0 599.2 326.8 600.0 386.0 600.8 332.1 601.6 386.0 602.4 336.3 603.2 386.0 604.0 333.6 604.8 386.0 605.6 331.7 606.4 340.3 607.2 333.1 608.0 386.0 608.8 325.9 609.6 386.0 610.4 332.3 611.2 386.0 612.0 327.7 612.8 386.0 613.6 331.0 614.4 386.0 615.2 330.4 616.0 335.0 616.8 335.9 617.6 386.0 618.4 324.4 619.2 335.2 620.0 330.4 620.8 386.0 621.6 330.7 622.4 386.0 623.2 328.0 624.0 333.0 624.8 333.1 625.6 332.1 626.4 332.9 627.2 386.0 628.0 330.8 628.8 386.0 629.6 333.4 630.4 349.4 631.2 327.4 632.0 386.0 632.8 335.3 633.6 386.0 634.4 326.8 635.2 337.6 636.0 325.6 636.8 386.0 637.6 322.4 638.4 344.7 639.2 332.7 640.0 386.0 640.8 329.4 641.6 335.7 642.4 333.2 643.2 386.0 644.0 330.2 644.8 341.6 645.6 330.9 646.4 386.0 647.2 325.5 648.0 386.0 648.8 324.8 649.6 386.0 650.4 332.2 651.2 343.5" stroke="#d62728"/></g><rect x="90.5" y="52.5" width="558" height="326" fill="none" stroke="#cccccc" stroke-width="1.39"/><rect x="97.8" y="60.2" width="146.6" height="66" rx="3.5" fill="#fff" fill-opacity="0.8" stroke="#cccccc" stroke-opacity="0.8" stroke-width="1"/><path d="M103.4 71H131.6" stroke="#bcbd22" stroke-opacity="0.85" stroke-width="1.8" stroke-linecap="round"/><path d="M103.4 91.8H131.6" stroke="#ff7f0e" stroke-opacity="0.85" stroke-width="1.8" stroke-linecap="round"/><path d="M103.4 112.8H131.6" stroke="#d62728" stroke-opacity="0.85" stroke-width="1.8" stroke-linecap="round"/><g font-family="Liberation Sans, Arial, sans-serif" fill="#000000" stroke="#000000" stroke-width="0.15"><text x="143.0" y="76" font-size="13.89" text-anchor="start" textLength="94.1" lengthAdjust="spacingAndGlyphs" >OptoBoard QA</text><text x="143.0" y="96.8" font-size="13.89" text-anchor="start" textLength="80.7" lengthAdjust="spacingAndGlyphs" >Post Burn-In</text><text x="143.0" y="117.8" font-size="13.89" text-anchor="start" textLength="74.5" lengthAdjust="spacingAndGlyphs" >Pre Burn-In</text><text x="90.0" y="391.8" font-size="13.89" text-anchor="middle" >840</text><text x="164.4" y="391.8" font-size="13.89" text-anchor="middle" >842</text><text x="238.8" y="391.8" font-size="13.89" text-anchor="middle" >844</text><text x="313.2" y="391.8" font-size="13.89" text-anchor="middle" >846</text><text x="387.6" y="391.8" font-size="13.89" text-anchor="middle" >848</text><text x="462.0" y="391.8" font-size="13.89" text-anchor="middle" >850</text><text x="536.4" y="391.8" font-size="13.89" text-anchor="middle" >852</text><text x="610.8" y="391.8" font-size="13.89" text-anchor="middle" >854</text><text x="86" y="353.7490909090909" font-size="13.89" text-anchor="end" >−80</text><text x="86" y="294.44727272727266" font-size="13.89" text-anchor="end" >−60</text><text x="86" y="235.14545454545456" font-size="13.89" text-anchor="end" >−40</text><text x="86" y="175.84363636363636" font-size="13.89" text-anchor="end" >−20</text><text x="86" y="116.54181818181817" font-size="13.89" text-anchor="end" >0</text><text x="86" y="57.24" font-size="13.89" text-anchor="end" >20</text><text x="369" y="46.3" font-size="16.67" text-anchor="middle" textLength="162.8" lengthAdjust="spacingAndGlyphs" >D4404 V20169 Ch. 3</text><text x="368.6" y="411.6" font-size="16.67" text-anchor="middle" textLength="129.5" lengthAdjust="spacingAndGlyphs" >Wavelength [nm]</text><text transform="translate(54.1,215.7) rotate(-90)" font-size="16.67" text-anchor="middle" textLength="142.3" lengthAdjust="spacingAndGlyphs">Optical Power [dB]</text></g></svg></body></html>
